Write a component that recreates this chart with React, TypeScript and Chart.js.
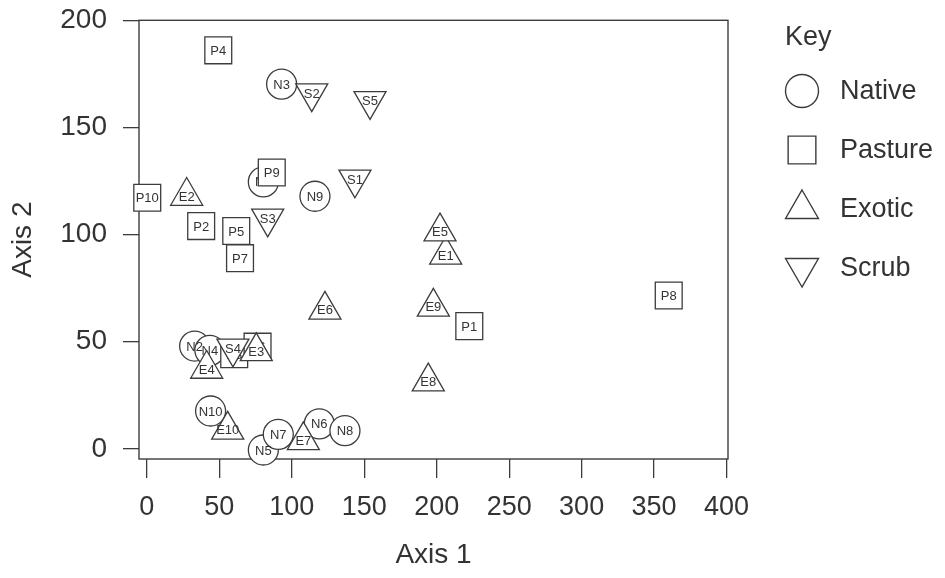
import React, { useEffect, useRef } from 'react';
import { Chart, registerables } from 'chart.js';
import { drawPoint } from 'chart.js/helpers';

Chart.register(...registerables);

// ---- data ----
const nativeLabels = ['N1', 'N2', 'N3', 'N4', 'N5', 'N6', 'N7', 'N8', 'N9', 'N10'];
const nativeX = [80.4, 33, 93.0, 43.5, 80.4, 119.0, 90.7, 136.7, 116.0, 44.0];
const nativeY = [124.6, 48, 170.2, 46, -0.5, 11.7, 6.8, 8.5, 117.9, 17.7];

const pastureLabels = ['P1', 'P2', 'P3', 'P4', 'P5', 'P6', 'P7', 'P8', 'P9', 'P10'];
const pastureX = [222.5, 37.5, 60.3, 49.3, 61.7, 76.4, 64.3, 360.1, 86.2, 0.3];
const pastureY = [57.3, 104.0, 44.2, 186.0, 101.7, 47.7, 89.0, 71.6, 129.0, 117.2];

const exoticLabels = ['E1', 'E2', 'E3', 'E4', 'E5', 'E6', 'E7', 'E8', 'E9', 'E10'];
const exoticX = [206.2, 27.5, 75.5, 41.3, 202.3, 122.9, 108.0, 194.2, 197.7, 55.8];
const exoticY = [90.5, 118.0, 45.5, 37.3, 101.4, 64.9, 4.0, 31.4, 66.3, 8.9];

const scrubLabels = ['S1', 'S2', 'S3', 'S4', 'S5'];
const scrubX = [143.6, 113.8, 83.4, 59.4, 154.0];
const scrubY = [125.8, 166.0, 107.6, 46.9, 162.4];

const groupNames = ['Native', 'Pasture', 'Exotic', 'Scrub'];
const xTicks = [0, 50, 100, 150, 200, 250, 300, 350, 400];
const yTicks = [0, 50, 100, 150, 200];

const FONT = '"Liberation Sans", Arial, Helvetica, sans-serif';
const INK = '#333333';
const LINE = '#3c3c3c';

const groupLabels = [nativeLabels, pastureLabels, exoticLabels, scrubLabels];

const toPoints = (xs: number[], ys: number[]) => xs.map((x, i) => ({ x, y: ys[i] }));

const boxPlugin = {
  id: 'plotBox',
  beforeDatasetsDraw(chart: any) {
    const { ctx, chartArea } = chart;
    ctx.save();
    ctx.strokeStyle = LINE;
    ctx.lineWidth = 1.4;
    ctx.strokeRect(chartArea.left, chartArea.top, chartArea.right - chartArea.left, chartArea.bottom - chartArea.top);
    ctx.restore();
  },
};

const pointLabelPlugin = {
  id: 'pointLabels',
  afterDatasetDraw(chart: any, args: any) {
    const { ctx } = chart;
    const labels = groupLabels[args.index];
    ctx.save();
    ctx.font = `13px ${FONT}`;
    ctx.fillStyle = INK;
    ctx.textAlign = 'center';
    ctx.textBaseline = 'middle';
    args.meta.data.forEach((el: any, i: number) => {
      ctx.fillText(labels[i], el.x, el.y + 1);
    });
    ctx.restore();
  },
};

const legendRadii = [16.5, 19.6, 19, 19];

const keyPlugin = {
  id: 'keyLegend',
  afterDraw(chart: any) {
    const { ctx, chartArea } = chart;
    const x0 = chartArea.right + 57;
    ctx.save();
    ctx.font = `27px ${FONT}`;
    ctx.fillStyle = INK;
    ctx.textAlign = 'left';
    ctx.textBaseline = 'middle';
    ctx.fillText('Key', x0, 38);
    chart.data.datasets.forEach((ds: any, i: number) => {
      const cy = 91 + i * 59;
      ctx.fillStyle = '#ffffff';
      ctx.strokeStyle = LINE;
      ctx.lineWidth = 1.4;
      drawPoint(ctx, { pointStyle: ds.pointStyle, rotation: ds.pointRotation || 0, radius: legendRadii[i], borderWidth: 1.4 }, x0 + 17, cy);
      ctx.fillStyle = INK;
      ctx.fillText(groupNames[i], x0 + 55, cy + 1);
    });
    ctx.restore();
  },
};

export default function App() {
  const ref = useRef<HTMLCanvasElement>(null);

  useEffect(() => {
    if (!ref.current) return;
    Chart.defaults.font.family = FONT;
    const common = {
      pointBorderColor: LINE,
      pointBackgroundColor: '#ffffff',
      pointBorderWidth: 1.3,
      pointHoverBorderWidth: 1.3,
      showLine: false,
      clip: false as any,
    };
    const chart = new Chart(ref.current, {
      type: 'scatter',
      data: {
        datasets: [
          { ...common, label: groupNames[0], data: toPoints(nativeX, nativeY), pointStyle: 'circle', pointRadius: 15, pointHoverRadius: 15, order: 4 },
          { ...common, label: groupNames[1], data: toPoints(pastureX, pastureY), pointStyle: 'rect', pointRadius: 19, pointHoverRadius: 19, order: 3 },
          { ...common, label: groupNames[2], data: toPoints(exoticX, exoticY), pointStyle: 'triangle', pointRadius: 18.5, pointHoverRadius: 18.5, order: 2 },
          { ...common, label: groupNames[3], data: toPoints(scrubX, scrubY), pointStyle: 'triangle', pointRotation: 180, pointRadius: 18.5, pointHoverRadius: 18.5, order: 1 },
        ] as any,
      },
      options: {
        animation: false,
        responsive: false,
        layout: { padding: { left: 0, right: 217, top: 20, bottom: 0 } },
        plugins: { legend: { display: false }, tooltip: { enabled: false } },
        scales: {
          x: {
            type: 'linear',
            min: -5.4,
            max: 401,
            afterBuildTicks: (s: any) => { s.ticks = xTicks.map((v) => ({ value: v })); },
            afterFit: (s: any) => { s.height = 119; s.paddingLeft = 0; s.paddingRight = 0; },
            grid: { drawOnChartArea: false, drawTicks: true, tickLength: 19, color: LINE, lineWidth: 1.3 },
            border: { display: false },
            ticks: { padding: 13, font: { size: 27 }, color: INK, maxRotation: 0, autoSkip: false },
            title: { display: true, text: 'Axis 1', font: { size: 28 }, color: INK, padding: { top: 0, bottom: 6 } },
          },
          y: {
            type: 'linear',
            min: -4.7,
            max: 200,
            afterBuildTicks: (s: any) => { s.ticks = yTicks.map((v) => ({ value: v })); },
            afterFit: (s: any) => { s.width = 139; s.paddingTop = 0; s.paddingBottom = 0; },
            grid: { drawOnChartArea: false, drawTicks: true, tickLength: 16, color: LINE, lineWidth: 1.3 },
            border: { display: false },
            ticks: { padding: 16, font: { size: 28 }, color: INK, autoSkip: false },
            title: { display: true, text: 'Axis 2', font: { size: 28 }, color: INK, padding: { top: 6, bottom: 0 } },
          },
        },
      } as any,
      plugins: [boxPlugin, pointLabelPlugin, keyPlugin],
    });
    return () => chart.destroy();
  }, []);

  return (
    <div style={{ position: 'absolute', left: 0, top: 0, width: 945, height: 578, background: '#fff' }}>
      <canvas ref={ref} width={945} height={578} style={{ display: 'block' }} />
    </div>
  );
}
